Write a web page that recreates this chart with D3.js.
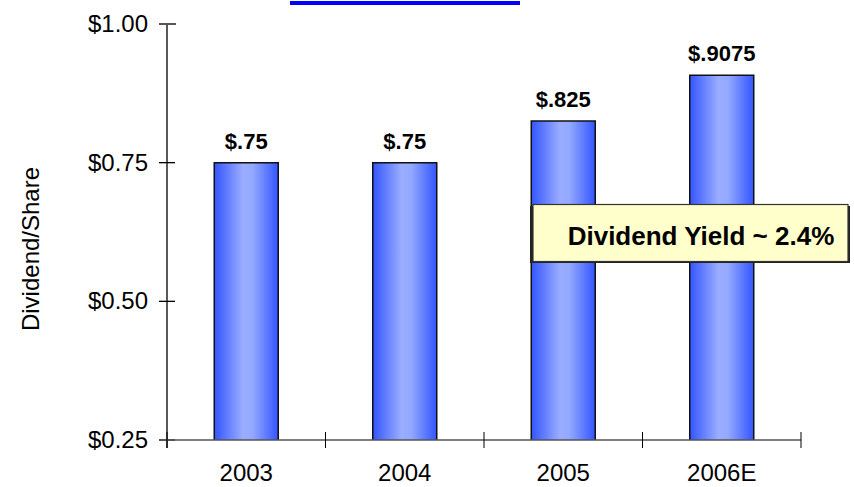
<!DOCTYPE html>
<html>
<head>
<meta charset="utf-8">
<script src="https://cdn.jsdelivr.net/npm/d3@7"></script>
<style>
  body { margin: 0; background: #fff; }
  text { font-family: "Liberation Sans", Arial, sans-serif; }
</style>
</head>
<body>
<div id="chart"></div>
<script>
// Datos
const years = ["2003", "2004", "2005", "2006E"];
const dividends = [0.75, 0.75, 0.825, 0.9075];
const barLabels = ["$.75", "$.75", "$.825", "$.9075"];
const yTicks = [0.25, 0.50, 0.75, 1.00];
const noteText = "Dividend Yield ~ 2.4%";

const width = 854, height = 487;

const svg = d3.select("#chart").append("svg")
    .attr("width", width)
    .attr("height", height);

// Escalas
const x = d3.scaleBand().domain(years).range([167, 801]);
const y = d3.scaleLinear().domain([0.25, 1.00]).range([440, 24]);

// Degradado de las barras
const grad = svg.append("defs").append("linearGradient")
    .attr("id", "barGrad")
    .attr("x1", "0%").attr("x2", "100%").attr("y1", "0%").attr("y2", "0%");
grad.append("stop").attr("offset", "0%").attr("stop-color", "#3355ff");
grad.append("stop").attr("offset", "45%").attr("stop-color", "#9aadff");
grad.append("stop").attr("offset", "60%").attr("stop-color", "#93a8ff");
grad.append("stop").attr("offset", "100%").attr("stop-color", "#3355ff");

// Linea azul superior
svg.append("rect")
    .attr("x", 290).attr("y", 1)
    .attr("width", 230).attr("height", 4)
    .attr("fill", "#0000ff");

const barW = 64;

// Barras
const bars = svg.selectAll("g.bar")
    .data(years)
    .enter().append("g")
    .attr("class", "bar");

bars.append("rect")
    .attr("x", d => x(d) + x.bandwidth() / 2 - barW / 2)
    .attr("y", (d, i) => y(dividends[i]))
    .attr("width", barW)
    .attr("height", (d, i) => y(0.25) - y(dividends[i]))
    .attr("fill", "url(#barGrad)");

bars.append("path")
    .attr("d", (d, i) => {
        const x0 = x(d) + x.bandwidth() / 2 - barW / 2;
        const x1 = x0 + barW;
        const yt = y(dividends[i]);
        return `M${x0},${y(0.25)}V${yt}H${x1}V${y(0.25)}`;
    })
    .attr("fill", "none")
    .attr("stroke", "#111")
    .attr("stroke-width", 1.5);

bars.append("text")
    .attr("x", d => x(d) + x.bandwidth() / 2)
    .attr("y", (d, i) => y(dividends[i]) - 14)
    .attr("text-anchor", "middle")
    .attr("font-size", 22)
    .attr("font-weight", "bold")
    .attr("fill", "#000")
    .text((d, i) => barLabels[i]);

// Eje Y
svg.append("line")
    .attr("x1", 167).attr("x2", 167)
    .attr("y1", y(1.00)).attr("y2", y(0.25) + 8)
    .attr("stroke", "#000").attr("stroke-width", 1.3);

svg.selectAll("line.ytick")
    .data(yTicks)
    .enter().append("line")
    .attr("class", "ytick")
    .attr("x1", 159).attr("x2", d => d === 1.00 ? 176 : 175)
    .attr("y1", d => y(d)).attr("y2", d => y(d))
    .attr("stroke", d => d === 1.00 ? "#555" : "#000")
    .attr("stroke-width", d => d === 1.00 ? 2 : 1.3);

svg.selectAll("text.ylab")
    .data(yTicks)
    .enter().append("text")
    .attr("class", "ylab")
    .attr("x", 148)
    .attr("y", d => y(d) + 8)
    .attr("text-anchor", "end")
    .attr("font-size", 24)
    .attr("fill", "#000")
    .text(d => "$" + d.toFixed(2));

svg.append("text")
    .attr("transform", `translate(39,${(y(1.0) + y(0.25)) / 2 + 17}) rotate(-90)`)
    .attr("text-anchor", "middle")
    .attr("font-size", 24)
    .attr("fill", "#000")
    .text("Dividend/Share");

// Eje X
svg.append("line")
    .attr("x1", 159).attr("x2", 801)
    .attr("y1", 440).attr("y2", 440)
    .attr("stroke", "#555").attr("stroke-width", 1.5);

const xTickPos = years.map(d => x(d)).concat([x.range()[1]]);
svg.selectAll("line.xtick")
    .data(xTickPos)
    .enter().append("line")
    .attr("class", "xtick")
    .attr("x1", d => d).attr("x2", d => d)
    .attr("y1", 432).attr("y2", 448)
    .attr("stroke", "#000").attr("stroke-width", 1);

svg.selectAll("text.xlab")
    .data(years)
    .enter().append("text")
    .attr("class", "xlab")
    .attr("x", d => x(d) + x.bandwidth() / 2)
    .attr("y", 481)
    .attr("text-anchor", "middle")
    .attr("font-size", 24)
    .attr("fill", "#000")
    .text(d => d);

// Cuadro de rentabilidad
svg.append("rect")
    .attr("x", 530).attr("y", 206)
    .attr("width", 320).attr("height", 57)
    .attr("fill", "#222");
svg.append("rect")
    .attr("x", 533).attr("y", 204.5)
    .attr("width", 315).attr("height", 57)
    .attr("fill", "#ffffcc")
    .attr("stroke", "#333").attr("stroke-width", 1.2);
svg.append("text")
    .attr("x", 701).attr("y", 245)
    .attr("text-anchor", "middle")
    .attr("font-size", 26)
    .attr("font-weight", "bold")
    .attr("fill", "#000")
    .text(noteText);
</script>
</body>
</html>
